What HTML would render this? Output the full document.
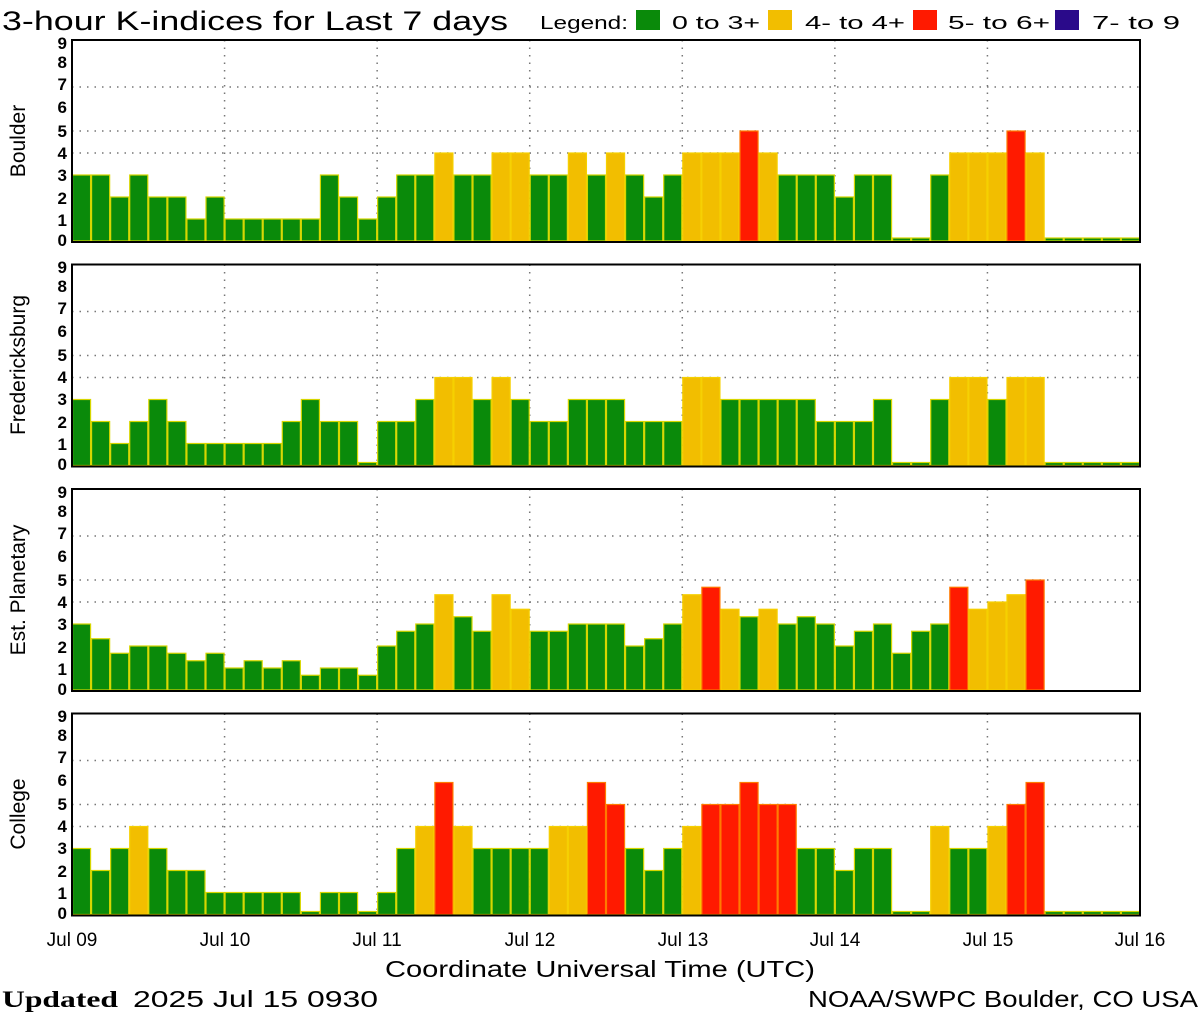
<!DOCTYPE html>
<html><head><meta charset="utf-8"><style>
body{margin:0;background:#fff;}
svg{display:block;font-family:"Liberation Sans",sans-serif;}
</style></head><body>
<svg id="s" width="1200" height="1020" xmlns="http://www.w3.org/2000/svg">
<rect width="1200" height="1020" fill="#fff"/>
<text x="2" y="30" font-size="27" fill="#000" textLength="506" lengthAdjust="spacingAndGlyphs">3-hour K-indices for Last 7 days</text>
<text x="540" y="29" font-size="18" fill="#000" textLength="88" lengthAdjust="spacingAndGlyphs">Legend:</text>
<rect x="636" y="10" width="24" height="20" fill="#0a8a0a"/><text x="672" y="29" font-size="18" textLength="88" lengthAdjust="spacingAndGlyphs">0 to 3+</text>
<rect x="768" y="10" width="24" height="20" fill="#f2be00"/><text x="805" y="29" font-size="18" textLength="100" lengthAdjust="spacingAndGlyphs">4- to 4+</text>
<rect x="913" y="10" width="24" height="20" fill="#ff1a00"/><text x="948" y="29" font-size="18" textLength="102" lengthAdjust="spacingAndGlyphs">5- to 6+</text>
<rect x="1055" y="10" width="24" height="20" fill="#2a0a8a"/><text x="1092" y="29" font-size="18" textLength="88" lengthAdjust="spacingAndGlyphs">7- to 9</text>
<g id="panels"></g>
<g font-size="19" text-anchor="middle" fill="#000">
<text x="72" y="946">Jul 09</text><text x="225" y="946">Jul 10</text><text x="377" y="946">Jul 11</text>
<text x="530" y="946">Jul 12</text><text x="683" y="946">Jul 13</text><text x="835" y="946">Jul 14</text>
<text x="988" y="946">Jul 15</text><text x="1140" y="946">Jul 16</text>
</g>
<text x="385" y="977" font-size="23" textLength="430" lengthAdjust="spacingAndGlyphs">Coordinate Universal Time (UTC)</text>
<text x="2" y="1007" font-size="23" font-family="Liberation Serif,serif" font-weight="bold" textLength="116" lengthAdjust="spacingAndGlyphs">Updated</text>
<text x="133" y="1007" font-size="23" textLength="245" lengthAdjust="spacingAndGlyphs">2025 Jul 15 0930</text>
<text x="808" y="1007" font-size="23" textLength="390" lengthAdjust="spacingAndGlyphs">NOAA/SWPC Boulder, CO USA</text>
<g font-size="21" text-anchor="middle">
<text transform="translate(25,141) rotate(-90)">Boulder</text>
<text transform="translate(25,365) rotate(-90)">Fredericksburg</text>
<text transform="translate(25,590) rotate(-90)">Est. Planetary</text>
<text transform="translate(25,814) rotate(-90)">College</text>
</g>
<g font-size="17" text-anchor="end" font-weight="bold">
<g><text x="67" y="49">9</text><text x="67" y="68">8</text><text x="67" y="90">7</text><text x="67" y="113">6</text><text x="67" y="137">5</text><text x="67" y="159">4</text><text x="67" y="181">3</text><text x="67" y="204">2</text><text x="67" y="226">1</text><text x="67" y="246">0</text></g>
<g transform="translate(0,224)"><text x="67" y="49">9</text><text x="67" y="68">8</text><text x="67" y="90">7</text><text x="67" y="113">6</text><text x="67" y="137">5</text><text x="67" y="159">4</text><text x="67" y="181">3</text><text x="67" y="204">2</text><text x="67" y="226">1</text><text x="67" y="246">0</text></g>
<g transform="translate(0,449)"><text x="67" y="49">9</text><text x="67" y="68">8</text><text x="67" y="90">7</text><text x="67" y="113">6</text><text x="67" y="137">5</text><text x="67" y="159">4</text><text x="67" y="181">3</text><text x="67" y="204">2</text><text x="67" y="226">1</text><text x="67" y="246">0</text></g>
<g transform="translate(0,673)"><text x="67" y="49">9</text><text x="67" y="68">8</text><text x="67" y="90">7</text><text x="67" y="113">6</text><text x="67" y="137">5</text><text x="67" y="159">4</text><text x="67" y="181">3</text><text x="67" y="204">2</text><text x="67" y="226">1</text><text x="67" y="246">0</text></g>
</g>
</svg>
<script>
var D=[
[3,3,2,3,2,2,1,2, 1,1,1,1,1,3,2,1, 2,3,3,4,3,3,4,4, 3,3,4,3,4,3,2,3, 4,4,4,5,4,3,3,3, 2,3,3,0,0,3,4,4, 4,5,4,0,0,0,0,0],
[3,2,1,2,3,2,1,1, 1,1,1,2,3,2,2,0, 2,2,3,4,4,3,4,3, 2,2,3,3,3,2,2,2, 4,4,3,3,3,3,3,2, 2,2,3,0,0,3,4,4, 3,4,4,0,0,0,0,0],
[3,2.33,1.67,2,2,1.67,1.33,1.67, 1,1.33,1,1.33,0.67,1,1,0.67, 2,2.67,3,4.33,3.33,2.67,4.33,3.67, 2.67,2.67,3,3,3,2,2.33,3, 4.33,4.67,3.67,3.33,3.67,3,3.33,3, 2,2.67,3,1.67,2.67,3,4.67,3.67, 4,4.33,5,-1,-1,-1,-1,-1],
[3,2,3,4,3,2,2,1, 1,1,1,1,0,1,1,0, 1,3,4,6,4,3,3,3, 3,4,4,6,5,3,2,3, 4,5,5,6,5,5,3,3, 2,3,3,0,0,4,3,3, 4,5,6,0,0,0,0,0]];
var ns="http://www.w3.org/2000/svg",g=document.getElementById("panels");
function el(t,a){var e=document.createElementNS(ns,t);for(var k in a)e.setAttribute(k,a[k]);g.appendChild(e);return e;}
var L=72,R=1140,W=(R-L)/56,U=22;
for(var p=0;p<4;p++){
 var z=241+p*224.5,pt=z-201;
 [4,5,7].forEach(function(v){el("line",{x1:L,x2:R,y1:z-v*U,y2:z-v*U,stroke:"#777","stroke-width":1.5,"stroke-dasharray":"1.5 6"});});
 for(var d=1;d<7;d++){var x=L+d*W*8;el("line",{x1:x,x2:x,y1:pt,y2:z,stroke:"#777","stroke-width":1.5,"stroke-dasharray":"1.5 6"});}
 for(var i=0;i<56;i++){var v=D[p][i];if(v<0)continue;
  var h=v==0?3:v*U,c=v>=6.6?"#2a0a8a":v>=4.6?"#ff1a00":v>=3.6?"#f2be00":"#0a8a0a",s=v>=4.6?"#ff7a00":v>=3.6?"#f6d000":"#d6d600";
  el("rect",{x:L+i*W+0.5,y:z-h,width:W-1,height:h,fill:c,stroke:s,"stroke-width":1.2});}
 el("rect",{x:L,y:pt,width:R-L,height:z-pt+1,fill:"none",stroke:"#000","stroke-width":2});
}
</script>
</body></html>
